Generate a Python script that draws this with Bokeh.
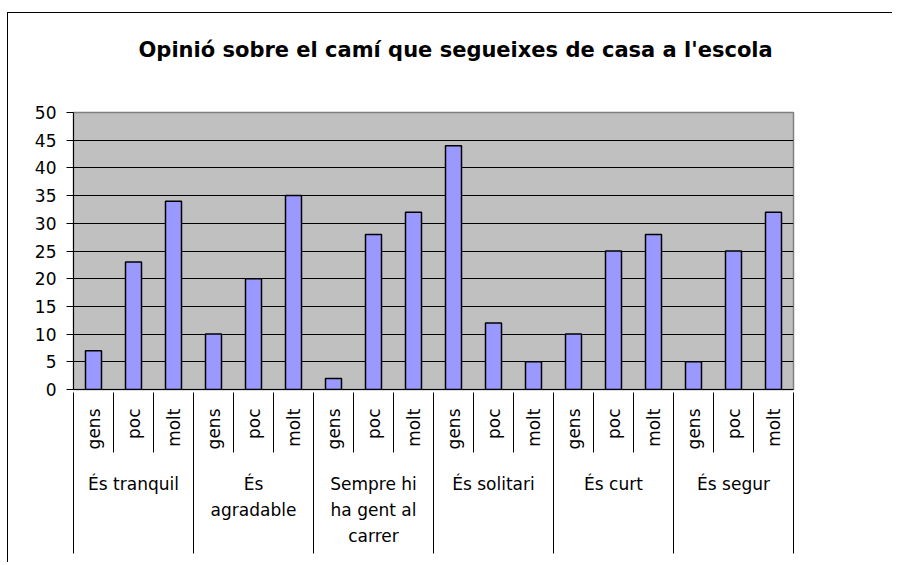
import math
from bokeh.plotting import figure
from bokeh.models import Range1d, FixedTicker, LinearAxis, Title
from bokeh.embed import file_html
from bokeh.resources import INLINE

# ---- data ----
groups = ["És tranquil", "És\nagradable", "Sempre hi\nha gent al\ncarrer",
          "És solitari", "És curt", "És segur"]
levels = ["gens", "poc", "molt"]
tranquil = [7, 23, 34]
agradable = [10, 20, 35]
sempre_gent = [2, 28, 32]
solitari = [44, 12, 5]
curt = [10, 25, 28]
segur = [5, 25, 32]
y_ticks = [0, 5, 10, 15, 20, 25, 30, 35, 40, 45, 50]
title_text = "Opinió sobre el camí que segueixes de casa a l'escola"

series = [tranquil, agradable, sempre_gent, solitari, curt, segur]
values = [v for grp in series for v in grp]
n = len(values)
nl = len(levels)
centers = [i + 0.5 for i in range(n)]
boundaries = list(range(n + 1))
group_centers = [g * nl + nl / 2 for g in range(len(groups))]
group_bounds = [g * nl for g in range(len(groups) + 1)]

FONT = "DejaVu Sans"

p = figure(width=885, height=550, output_backend="svg", toolbar_location=None,
           x_range=Range1d(0, n), y_range=Range1d(y_ticks[0], y_ticks[-1]),
           min_border_left=65, min_border_right=100, min_border_top=99,
           min_border_bottom=174)
p.margin = (12, 0, 0, 7)
p.styles = {"border-left": "1px solid #000000", "border-top": "1px solid #000000"}

xa = p.below[0]
ya = p.left[0]

p.background_fill_color = "#C0C0C0"
p.border_fill_color = "white"
p.outline_line_color = "#808080"
p.outline_line_width = 1.5

# invisible spacer between title and frame
spacer = LinearAxis(ticker=FixedTicker(ticks=[n / 2]), axis_line_color=None,
                    major_tick_line_color=None, minor_tick_line_color=None,
                    major_tick_out=46, major_tick_in=0, minor_tick_out=0, minor_tick_in=0,
                    major_label_standoff=0, major_label_text_font_size="1px",
                    major_label_text_alpha=0.0)
spacer.major_label_overrides = {n / 2: " "}
p.add_layout(spacer, "above")

t = Title(text=title_text, align="left", offset=65, standoff=10,
          text_font=FONT, text_font_style="bold", text_font_size="21px",
          text_color="black")
p.add_layout(t, "above")

p.vbar(x=centers, top=values, width=0.4, bottom=0,
       fill_color="#9999FF", line_color="black", line_width=1.5)

# y axis
ya.ticker = FixedTicker(ticks=y_ticks)
ya.axis_line_color = "black"
ya.axis_line_width = 1
ya.major_tick_out = 7
ya.major_tick_in = 0
ya.minor_tick_line_color = None
ya.major_label_standoff = 10
ya.major_label_text_font = FONT
ya.major_label_text_font_size = "17px"
ya.major_label_text_color = "black"
p.ygrid.grid_line_color = "black"
p.ygrid.grid_line_width = 1
p.xgrid.visible = False

# x axis level 1 (sub-categories) - labels only
xa.ticker = FixedTicker(ticks=centers, minor_ticks=[])
xa.major_label_overrides = {c: levels[i % nl] for i, c in enumerate(centers)}
xa.major_label_orientation = math.pi / 2
xa.axis_line_color = "black"
xa.major_tick_out = 0
xa.major_tick_in = 0
xa.major_tick_line_color = None
xa.minor_tick_out = 0
xa.minor_tick_in = 0
xa.minor_tick_line_color = None
xa.major_label_standoff = 19
xa.major_label_text_font = FONT
xa.major_label_text_font_size = "17px"
xa.major_label_text_color = "black"

# x axis level 2 (groups) - its minor ticks draw the sub separators upward
xb = LinearAxis(ticker=FixedTicker(ticks=group_centers, minor_ticks=boundaries))
xb.major_label_overrides = {c: groups[i] for i, c in enumerate(group_centers)}
xb.axis_line_color = None
xb.major_tick_out = 0
xb.major_tick_in = 0
xb.major_tick_line_color = None
xb.minor_tick_in = 60
xb.minor_tick_out = 0
xb.minor_tick_line_color = "black"
xb.major_label_standoff = 21
xb.major_label_text_font = FONT
xb.major_label_text_font_size = "17px"
xb.major_label_text_color = "black"
xb.major_label_text_line_height = 1.3
p.add_layout(xb, "below")

# bottom axis carrying the long group separators upward
xc = LinearAxis(ticker=FixedTicker(ticks=[], minor_ticks=group_bounds))
xc.axis_line_color = None
xc.major_tick_out = 0
xc.major_tick_in = 0
xc.major_tick_line_color = None
xc.minor_tick_in = 140
xc.minor_tick_out = 5
xc.minor_tick_line_color = "black"
xc.major_label_text_font_size = "0px"
p.add_layout(xc, "below")

open("out.html", "w").write(file_html(p, INLINE))
